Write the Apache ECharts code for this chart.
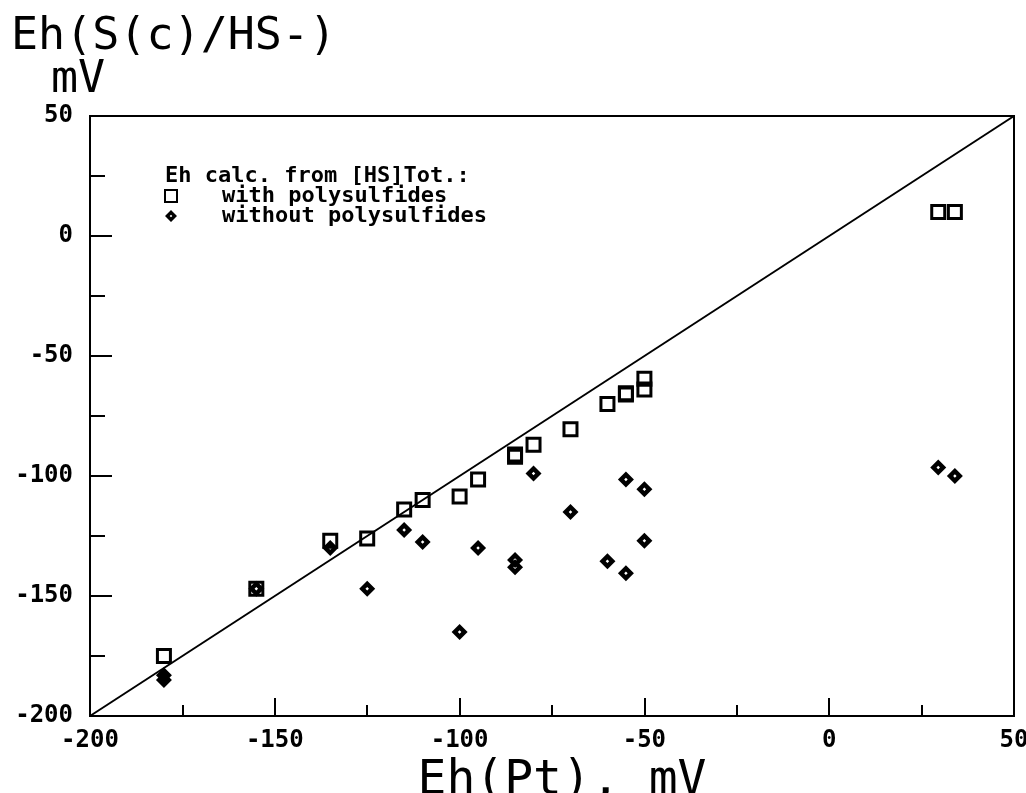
<!DOCTYPE html>
<html>
<head>
<meta charset="utf-8">
<script src="https://cdn.jsdelivr.net/npm/echarts@6/dist/echarts.min.js"></script>
<style>
  html, body { margin: 0; padding: 0; background: #fff; }
  #chart { width: 1026px; height: 793px; }
</style>
</head>
<body>
<div id="chart"></div>
<script>
// Eh measured at the Pt electrode (x) vs Eh calculated from total sulfide (y), mV
const withPolyX = [-180, -155, -135, -125, -115, -110, -100, -95, -85, -85, -80, -70, -60, -55, -55, -50, -50, 29.5, 34];
const withPolyY = [-175, -147, -127, -126, -114, -110, -108.5, -101.5, -91, -92, -87, -80.5, -70, -66, -65.5, -59.5, -64, 10, 10];

const withoutPolyX = [-180, -180, -155, -135, -125, -115, -110, -100, -95, -85, -85, -80, -70, -60, -55, -55, -50, -50, 29.5, 34];
const withoutPolyY = [-183, -185, -147, -130, -147, -122.5, -127.5, -165, -130, -135, -138, -99, -115, -135.5, -101.5, -140.5, -105.5, -127, -96.5, -100];

// 1:1 reference line across the axis range
const lineX = [-200, 50];
const lineY = [-200, 50];

const xTicks = { min: -200, max: 50, step: 50 };
const yTicks = { min: -200, max: 50, step: 50 };

const headerText = 'Eh calc. from [HS]Tot.:';
const seriesNames = ['with polysulfides', 'without polysulfides'];
const yTitle = 'Eh(S(c)/HS-)';
const yUnit = 'mV';
const xTitle = 'Eh(Pt), mV';

const FONT = '"DejaVu Sans Mono", "Liberation Mono", monospace';

const zip = (xs, ys) => xs.map((x, i) => [x, ys[i]]);

// diamond with a small hollow centre
const diamondPath = 'path://M0,-5 L5,0 L0,5 L-5,0 Z M0,-1.1 L-1.1,0 L0,1.1 L1.1,0 Z';

const chart = echarts.init(document.getElementById('chart'), null, { renderer: 'canvas' });

chart.setOption({
  backgroundColor: '#fff',
  animation: false,
  title: [
    { text: yTitle, left: 6, top: 10, textStyle: { fontFamily: FONT, fontSize: 45, fontWeight: 'normal', color: '#000' } },
    { text: yUnit, left: 46, top: 53, textStyle: { fontFamily: FONT, fontSize: 45, fontWeight: 'normal', color: '#000' } }
  ],
  graphic: [
    { type: 'text', left: 165, top: 165, style: { text: headerText, font: 'bold 22px ' + FONT, fill: '#000' } }
  ],
  legend: {
    orient: 'vertical',
    left: 159,
    top: 180,
    itemGap: -2,
    itemWidth: 12,
    itemHeight: 12,
    textStyle: { fontFamily: FONT, fontSize: 22, fontWeight: 'bold', lineHeight: 19, color: '#000', padding: [0, 0, 0, 40] },
    data: seriesNames
  },
  grid: {
    left: 90, top: 116, width: 924, height: 600,
    outerBoundsMode: 'none',
    show: true, borderColor: '#000', borderWidth: 2, backgroundColor: 'transparent'
  },
  xAxis: {
    type: 'value',
    min: xTicks.min, max: xTicks.max, interval: xTicks.step,
    name: xTitle, nameLocation: 'middle', nameGap: 33,
    nameTextStyle: { fontFamily: FONT, fontSize: 48, color: '#000', padding: [0, 0, 0, 20] },
    axisLine: { show: true, onZero: false, lineStyle: { color: '#000', width: 2 } },
    axisTick: { show: true, inside: true, length: 18, lineStyle: { color: '#000', width: 2 } },
    minorTick: { show: true, splitNumber: 2, length: 11, lineStyle: { color: '#000', width: 2 } },
    splitLine: { show: false },
    axisLabel: { fontFamily: FONT, fontSize: 24, fontWeight: 'bold', color: '#000', margin: 13 }
  },
  yAxis: {
    type: 'value',
    min: yTicks.min, max: yTicks.max, interval: yTicks.step,
    axisLine: { show: true, onZero: false, lineStyle: { color: '#000', width: 2 } },
    axisTick: { show: true, inside: true, length: 22, lineStyle: { color: '#000', width: 2 } },
    minorTick: { show: true, splitNumber: 2, length: 15, lineStyle: { color: '#000', width: 2 } },
    splitLine: { show: false },
    axisLabel: { fontFamily: FONT, fontSize: 24, fontWeight: 'bold', color: '#000', margin: 17 }
  },
  series: [
    {
      type: 'line',
      data: zip(lineX, lineY),
      symbol: 'none',
      lineStyle: { color: '#000', width: 2 },
      silent: true,
      z: 1
    },
    {
      name: seriesNames[0],
      type: 'scatter',
      data: zip(withPolyX, withPolyY),
      symbol: 'rect',
      symbolSize: 13,
      itemStyle: { color: 'rgba(255,255,255,0)', borderColor: '#000', borderWidth: 3, opacity: 1 },
      z: 3
    },
    {
      name: seriesNames[1],
      type: 'scatter',
      data: zip(withoutPolyX, withoutPolyY),
      symbol: diamondPath,
      symbolSize: 16,
      itemStyle: { color: '#000', opacity: 1 },
      z: 2
    }
  ]
});
</script>
</body>
</html>
